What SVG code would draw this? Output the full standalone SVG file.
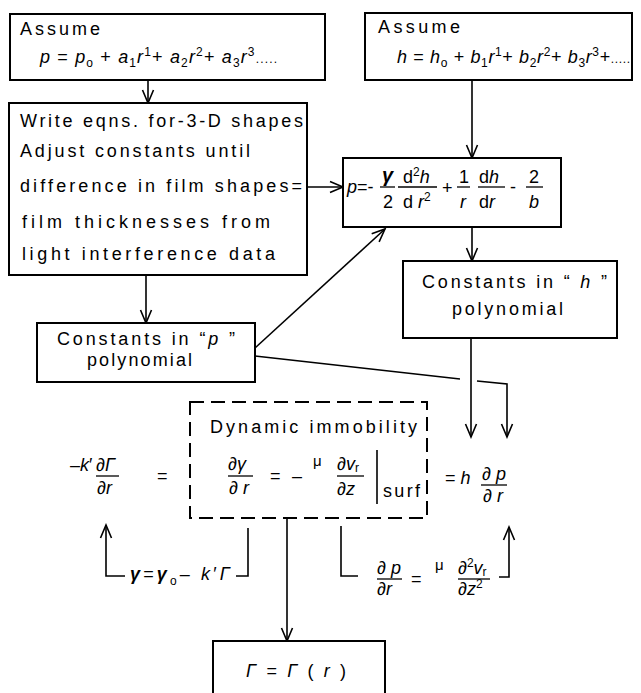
<svg xmlns="http://www.w3.org/2000/svg" width="641" height="693" viewBox="0 0 641 693">
<style>
text{font-family:"Liberation Sans","DejaVu Sans",sans-serif;fill:#000;font-size:18px}
.i{font-style:italic}
.m{font-size:18px}
.s{font-size:12px}
.b{font-weight:bold}
.box{fill:#fff;stroke:#000;stroke-width:2}
.dash{fill:none;stroke:#000;stroke-width:2;stroke-dasharray:14 7}
.ln{fill:none;stroke:#000;stroke-width:1.6}
.bar{stroke:#000;stroke-width:1.3}
</style>
<defs>
<marker id="ar" viewBox="-15 -8 17 16" markerWidth="17" markerHeight="16" refX="0" refY="0" orient="auto" markerUnits="userSpaceOnUse">
<path d="M-13,-5.5 L0,0 L-13,5.5" fill="none" stroke="#000" stroke-width="1.6"/>
</marker>
</defs>

<g id="connectors">
<path class="ln" d="M148,80 V103" marker-end="url(#ar)"/>
<path class="ln" d="M472,80 V158" marker-end="url(#ar)"/>
<path class="ln" d="M307,187 H343" marker-end="url(#ar)"/>
<path class="ln" d="M146,275 V323" marker-end="url(#ar)"/>
<path class="ln" d="M472,227 V261" marker-end="url(#ar)"/>
<path class="ln" d="M255,348 L385,229" marker-end="url(#ar)"/>
<path class="ln" d="M255,356 L460,379"/>
<path class="ln" d="M477,381 L507,384 V437" marker-end="url(#ar)"/>
<path class="ln" d="M471,338 V437" marker-end="url(#ar)"/>
<path class="ln" d="M287,518 V641" marker-end="url(#ar)"/>
<path class="ln" d="M248,528 V576 H236"/>
<path class="ln" d="M125,576 H106 V525" marker-end="url(#ar)"/>
<path class="ln" d="M341,526 V576 H358"/>
<path class="ln" d="M499,577 H509 V527" marker-end="url(#ar)"/>
</g>

<g id="assume-p">
<rect class="box" x="10" y="14" width="315" height="66"/>
<text x="20" y="35" textLength="80">Assume</text>
<text class="m" x="40" y="63" textLength="237" lengthAdjust="spacing"><tspan class="i">p</tspan> = <tspan class="i">p</tspan><tspan class="s" dy="4">o</tspan><tspan dy="-4"> + </tspan><tspan class="i">a</tspan><tspan class="s" dy="4">1</tspan><tspan class="i" dy="-4">r</tspan><tspan class="s" dy="-7">1</tspan><tspan dy="7">+ </tspan><tspan class="i">a</tspan><tspan class="s" dy="4">2</tspan><tspan class="i" dy="-4">r</tspan><tspan class="s" dy="-7">2</tspan><tspan dy="7">+ </tspan><tspan class="i">a</tspan><tspan class="s" dy="4">3</tspan><tspan class="i" dy="-4">r</tspan><tspan class="s" dy="-7">3</tspan><tspan class="s" dy="7">.....</tspan></text>
</g>

<g id="assume-h">
<rect class="box" x="365" y="13" width="267" height="67"/>
<text x="378" y="33" textLength="82">Assume</text>
<text class="m" x="397" y="63" textLength="233" lengthAdjust="spacing"><tspan class="i">h</tspan> = <tspan class="i">h</tspan><tspan class="s" dy="4">o</tspan><tspan dy="-4"> + </tspan><tspan class="i">b</tspan><tspan class="s" dy="4">1</tspan><tspan class="i" dy="-4">r</tspan><tspan class="s" dy="-7">1</tspan><tspan dy="7">+ </tspan><tspan class="i">b</tspan><tspan class="s" dy="4">2</tspan><tspan class="i" dy="-4">r</tspan><tspan class="s" dy="-7">2</tspan><tspan dy="7">+  </tspan><tspan class="i">b</tspan><tspan class="s" dy="4">3</tspan><tspan class="i" dy="-4">r</tspan><tspan class="s" dy="-7">3</tspan><tspan dy="7">+</tspan><tspan class="s">.....</tspan></text>
</g>

<g id="write-eqns">
<rect class="box" x="9" y="103" width="298" height="172"/>
<text x="20" y="127" textLength="283">Write eqns. for-3-D shapes</text>
<text x="20" y="157" textLength="230">Adjust constants until</text>
<text x="20" y="192" textLength="282">difference  in film shapes=</text>
<text x="22" y="228" textLength="248">film  thicknesses  from</text>
<text x="22" y="260" textLength="253">light  interference  data</text>
</g>

<g id="p-equation">
<rect class="box" x="343" y="158" width="218" height="69"/>
<text class="m" x="347" y="193"><tspan class="i">p</tspan>=-</text>
<text class="b i" x="382" y="182" style="font-size:20px">γ</text>
<line class="bar" x1="380" y1="187" x2="395" y2="187"/>
<text class="m" x="383" y="208">2</text>
<text class="m" x="403" y="183">d<tspan class="s" dy="-7">2</tspan><tspan class="i" dy="7">h</tspan></text>
<line class="bar" x1="398" y1="187" x2="437" y2="187"/>
<text class="m" x="403" y="208">d <tspan class="i">r</tspan><tspan class="s" dy="-7">2</tspan></text>
<text class="m" x="442" y="194">+</text>
<text class="m" x="459" y="183">1</text>
<line class="bar" x1="457" y1="187" x2="470" y2="187"/>
<text class="m i" x="460" y="208">r</text>
<text class="m" x="479" y="183">d<tspan class="i">h</tspan></text>
<line class="bar" x1="478" y1="187" x2="505" y2="187"/>
<text class="m" x="479" y="208">d<tspan class="i">r</tspan></text>
<text class="m" x="510" y="193">-</text>
<text class="m" x="529" y="183">2</text>
<line class="bar" x1="526" y1="187" x2="543" y2="187"/>
<text class="m i" x="529" y="208">b</text>
</g>

<g id="constants-h">
<rect class="box" x="403" y="261" width="214" height="77"/>
<text x="422" y="288" textLength="185">Constants in “ <tspan class="i">h</tspan> ”</text>
<text x="452" y="315" textLength="111">polynomial</text>
</g>

<g id="constants-p">
<rect class="box" x="37" y="323" width="218" height="59"/>
<text x="57" y="345" textLength="178">Constants in “<tspan class="i">p</tspan> ”</text>
<text x="87" y="366" textLength="105">polynomial</text>
</g>

<g id="dynamic-immobility">
<rect class="dash" x="190" y="402" width="237" height="116"/>
<text x="210" y="433" textLength="207">Dynamic  immobility</text>
<text class="m" x="228" y="470">∂<tspan class="i">γ</tspan></text>
<line class="bar" x1="228" y1="476" x2="253" y2="476"/>
<text class="m" x="229" y="494">∂<tspan class="i"> r</tspan></text>
<text class="m" x="270" y="482">=</text>
<text class="m" x="292" y="482">–</text>
<text style="font-size:15px" x="313" y="466">μ</text>
<text class="m" x="337" y="470">∂<tspan class="i">v</tspan><tspan class="s" dy="2">r</tspan></text>
<line class="bar" x1="337" y1="476" x2="364" y2="476"/>
<text class="m" x="337" y="495">∂<tspan class="i">z</tspan></text>
<line class="bar" x1="377" y1="450" x2="377" y2="504" style="stroke-width:1.6"/>
<text x="383" y="497" textLength="37">surf</text>
</g>

<g id="left-eq">
<text class="m" x="70" y="471">–</text>
<text class="m i" x="80" y="471">k</text>
<text class="m" x="89" y="471">′</text>
<text class="m" x="96" y="471">∂<tspan class="i">Γ</tspan></text>
<line class="bar" x1="96" y1="476" x2="119" y2="476"/>
<text class="m" x="97" y="494">∂<tspan class="i">r</tspan></text>
<text class="m" x="157" y="482">=</text>
</g>

<g id="right-eq">
<text class="m" x="445" y="484">= <tspan class="i">h</tspan></text>
<text class="m" x="482" y="480">∂<tspan class="i"> p</tspan></text>
<line class="bar" x1="481" y1="485" x2="507" y2="485"/>
<text class="m" x="483" y="502">∂<tspan class="i"> r</tspan></text>
</g>

<g id="gamma-eq">
<text class="m" x="130" y="580" textLength="100" lengthAdjust="spacing"><tspan class="b i">γ</tspan>=<tspan class="b i">γ</tspan><tspan class="s" dy="5">o</tspan><tspan dy="-5">–</tspan><tspan class="i"> k</tspan>′<tspan class="i">Γ</tspan></text>
</g>

<g id="pressure-eq">
<text class="m" x="377" y="574">∂<tspan class="i"> p</tspan></text>
<line class="bar" x1="377" y1="579" x2="402" y2="579"/>
<text class="m" x="377" y="595">∂<tspan class="i">r</tspan></text>
<text class="m" x="411" y="585">=</text>
<text style="font-size:15px" x="435" y="570">μ</text>
<text class="m" x="458" y="574">∂<tspan class="s" dy="-7">2</tspan><tspan class="i" dy="7">v</tspan><tspan class="s" dy="2">r</tspan></text>
<line class="bar" x1="458" y1="579" x2="490" y2="579"/>
<text class="m" x="458" y="595">∂<tspan class="i">z</tspan><tspan class="s" dy="-7">2</tspan></text>
</g>

<g id="gamma-r">
<rect class="box" x="213" y="641" width="172" height="60"/>
<text class="m" x="246" y="677" textLength="100" lengthAdjust="spacing"><tspan class="i">Γ</tspan> = <tspan class="i">Γ</tspan> ( <tspan class="i">r</tspan> )</text>
</g>
</svg>
